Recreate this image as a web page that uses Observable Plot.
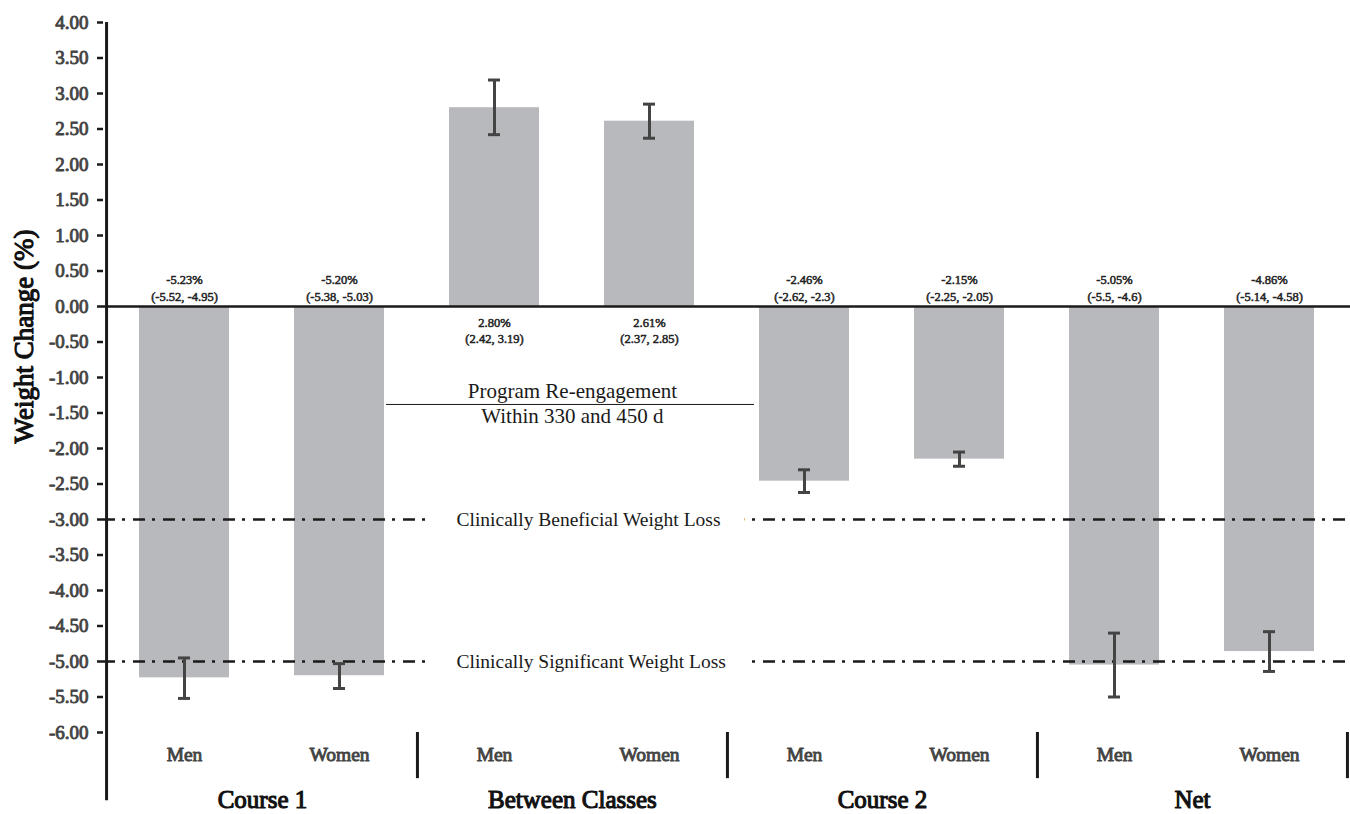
<!DOCTYPE html>
<html>
<head>
<meta charset="utf-8">
<script src="https://cdn.jsdelivr.net/npm/d3@7"></script>
<script src="https://cdn.jsdelivr.net/npm/@observablehq/plot@0.6"></script>
<style>
  body { margin: 0; background: #fff; }
  #chart svg { display: block; font-family: "Liberation Serif", "Times New Roman", serif; background: #fff; }
</style>
</head>
<body>
<div id="chart"></div>
<script>
// ---- data ----
const groups = ["Course 1", "Between Classes", "Course 2", "Net"];
const sexes = ["Men", "Women"];
const means = [-5.23, -5.20, 2.80, 2.61, -2.46, -2.15, -5.05, -4.86];
const lower = [-5.52, -5.38, 2.42, 2.37, -2.62, -2.25, -5.5, -5.14];
const upper = [-4.95, -5.03, 3.19, 2.85, -2.3, -2.05, -4.6, -4.58];
const yTicks = [4, 3.5, 3, 2.5, 2, 1.5, 1, 0.5, 0, -0.5, -1, -1.5, -2, -2.5, -3, -3.5, -4, -4.5, -5, -5.5, -6];
const thresholdValues = [-3, -5];
const thresholdLabels = ["Clinically Beneficial Weight Loss", "Clinically Significant Weight Loss"];
const reengageLines = ["Program Re-engagement", "Within 330 and 450 d"];
const reengageY = -1.38;
const yLabel = "Weight Change (%)";

// ---- derived table ----
const rows = [];
groups.forEach((g, gi) => sexes.forEach((s, si) => {
  const i = gi * 2 + si;
  rows.push({key: g + "|" + s, group: g, sex: s, mean: means[i], lo: lower[i], hi: upper[i]});
}));
const keys = rows.map(d => d.key);
const thresholds = thresholdValues.map((v, i) => ({value: v, label: thresholdLabels[i]}));
const fmtLabel = d => `${d.mean.toFixed(2)}%\n(${d.lo}, ${d.hi})`;

const W = 1350, H = 814, mL = 103, mR = 0, mT = 22, mB = 82;
const step = (W - mL - mR) / keys.length;
const yMin = -6, yMax = 4;
const ink = "#1a1a1a", gray = "#444";
// heavy serif text (stroke-emboldened serif)
const heavy = (color, sw) => ({fill: color, stroke: color, strokeWidth: sw, strokeLinejoin: "round"});

const plot = Plot.plot({
  width: W, height: H,
  marginLeft: mL, marginRight: mR, marginTop: mT, marginBottom: mB,
  style: {fontFamily: '"Liberation Serif", "Times New Roman", serif', background: "#fff"},
  x: {type: "band", domain: keys, paddingInner: 0.42, paddingOuter: 0.21, axis: null},
  y: {domain: [yMin, yMax], label: null},
  marks: [
    Plot.barY(rows, {x: "key", y: "mean", fill: "#b8b9bc"}),
    Plot.ruleY([0], {stroke: ink, strokeWidth: 2.5}),
    Plot.ruleY(thresholdValues, {y: d => d, stroke: ink, strokeWidth: 2.5, strokeDasharray: "12,7,3,8"}),
    Plot.text(thresholds, {
      x: () => "Between Classes|Men", y: "value", text: "label", dx: -38,
      textAnchor: "start", lineAnchor: "middle", fontSize: 19.5, fill: ink,
      stroke: "white", strokeWidth: 50
    }),
    // Re-engagement annotation
    Plot.ruleY([reengageY], {y: d => d, x1: () => "Between Classes|Men", x2: () => "Between Classes|Women",
      insetLeft: -63, insetRight: -60, stroke: ink, strokeWidth: 1}),
    Plot.text([reengageLines[0]], {x: () => "Between Classes|Men", y: () => reengageY, text: d => d, dx: step / 2,
      dy: -6, lineAnchor: "bottom", textAnchor: "middle", fontSize: 21, fill: ink}),
    Plot.text([reengageLines[1]], {x: () => "Between Classes|Men", y: () => reengageY, text: d => d, dx: step / 2,
      dy: 4, lineAnchor: "top", textAnchor: "middle", fontSize: 21, fill: ink}),
    // error bars
    Plot.ruleX(rows, {x: "key", y1: "lo", y2: "hi", stroke: gray, strokeWidth: 3}),
    Plot.tickY(rows, {x: "key", y: "lo", stroke: gray, strokeWidth: 3, inset: 39}),
    Plot.tickY(rows, {x: "key", y: "hi", stroke: gray, strokeWidth: 3, inset: 39}),
    // value labels
    Plot.text(rows.filter(d => d.mean < 0), {x: "key", y: () => 0, text: fmtLabel, lineAnchor: "bottom",
      dy: -6, lineHeight: 1.3, fontSize: 12.5, ...heavy("#222", 0.5)}),
    Plot.text(rows.filter(d => d.mean >= 0), {x: "key", y: () => 0, text: fmtLabel, lineAnchor: "top",
      dy: 9, lineHeight: 1.3, fontSize: 12.5, ...heavy("#222", 0.5)}),
    // y axis
    Plot.axisY({ticks: yTicks, tickFormat: () => "", tickSize: 6, stroke: ink, strokeWidth: 2.5, label: null}),
    Plot.text(yTicks, {y: d => d, text: d => d.toFixed(2), frameAnchor: "left", textAnchor: "end",
      lineAnchor: "middle", dx: -15, fontSize: 19, ...heavy(gray, 0.9)}),
    Plot.ruleX([keys[0]], {x: d => d, dx: -step / 2, y1: () => yMin - 0.96, y2: () => yMax, stroke: ink, strokeWidth: 3}),
    Plot.text([yLabel], {text: d => d, frameAnchor: "left", textAnchor: "middle", lineAnchor: "middle",
      rotate: -90, dx: -79, dy: -41, fontSize: 27, ...heavy("#111", 1.1)}),
    // x category labels
    Plot.text(rows, {x: "key", text: "sex", frameAnchor: "bottom", dy: 22, lineAnchor: "middle",
      textAnchor: "middle", fontSize: 19.5, ...heavy(gray, 0.9)}),
    Plot.text(groups, {x: g => g + "|Men", text: g => g, dx: step / 2, frameAnchor: "bottom", dy: 67,
      lineAnchor: "middle", textAnchor: "middle", fontSize: 25, ...heavy("#111", 1.1)}),
    Plot.ruleX(groups, {x: g => g + "|Women", dx: step / 2, y1: () => yMin, y2: () => yMin - 0.65,
      stroke: ink, strokeWidth: 3})
  ]
});
document.getElementById("chart").appendChild(plot);
</script>
</body>
</html>
